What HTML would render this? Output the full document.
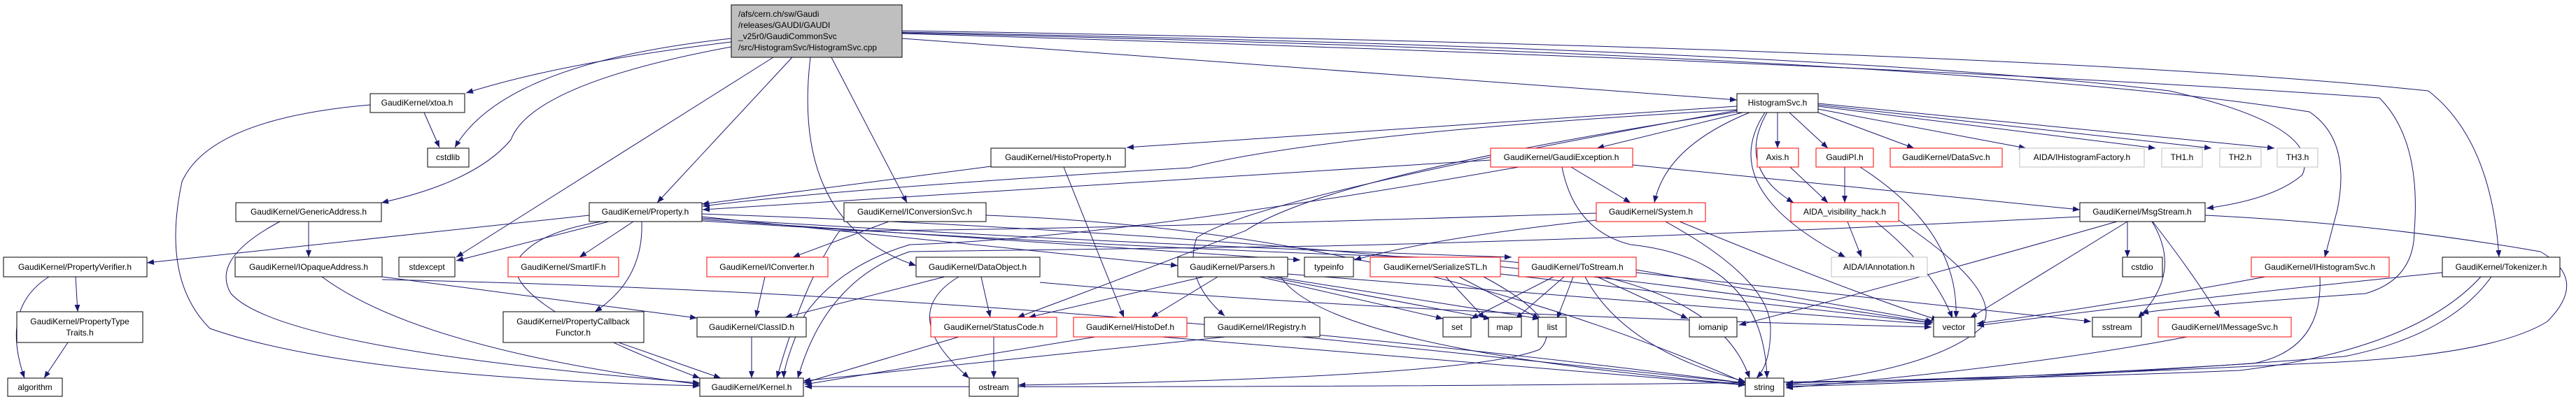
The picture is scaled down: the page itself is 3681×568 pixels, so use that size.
<!DOCTYPE html>
<html><head><meta charset="utf-8"><style>
html,body{margin:0;padding:0;background:#fff;}
svg{display:block;}
text{font-family:"Liberation Sans",sans-serif;font-size:12px;fill:#000;}
.n{fill:#fff;stroke:#000;stroke-width:1;}
.r{fill:#fff;stroke:#f00;stroke-width:1;}
.g{fill:#fff;stroke:#bfbfbf;stroke-width:1;}
.e{fill:none;stroke:#191970;stroke-width:1;marker-end:url(#a);}
</style></head><body>
<svg width="3681" height="568" viewBox="0 0 3681 568" xmlns="http://www.w3.org/2000/svg">
<defs><marker id="a" markerWidth="10" markerHeight="8" refX="10" refY="4" orient="auto" markerUnits="userSpaceOnUse"><path d="M0,0 L10,4 L0,8 z" fill="#191970"/></marker></defs>
<g>
<!-- root edges -->
<path class="e" d="M1045,60 Q800,90 666,133"/>
<path class="e" d="M1045,55 Q720,90 650,211"/>
<path class="e" d="M1045,67 Q760,120 730,200 Q680,260 545,290"/>
<path class="e" d="M1105,82 L652,368"/>
<path class="e" d="M1132,82 L939,290"/>
<path class="e" d="M1158,82 Q1130,320 1309,380"/>
<path class="e" d="M1188,82 L1296,290"/>
<path class="e" d="M1289,55 L2482,143"/>
<path class="e" d="M1289,46 Q2600,70 3100,130 Q3320,180 3290,250 Q3250,285 3153,298"/>
<path class="e" d="M1289,47 Q2800,80 3300,160 Q3360,200 3340,300 L3322,368"/>
<path class="e" d="M1289,44 Q2900,70 3470,130 Q3560,200 3571,368"/>
<path class="e" d="M1289,48 Q2700,90 3400,140 Q3460,200 3450,330 Q3450,400 3380,420 Q3100,440 3060,448"/>
<!-- HistogramSvc edges -->
<path class="e" d="M2482,152 L1610,211"/>
<path class="e" d="M2482,157 Q1900,190 1700,240 Q1200,270 1004,295"/>
<path class="e" d="M2490,161 L2282,212"/>
<path class="e" d="M2500,161 Q2380,210 2364,290"/>
<path class="e" d="M2540,161 L2540,212"/>
<path class="e" d="M2557,161 L2612,212"/>
<path class="e" d="M2598,161 L2735,212"/>
<path class="e" d="M2598,156 L2895,212"/>
<path class="e" d="M2598,152 L3080,212"/>
<path class="e" d="M2598,150 L3160,212"/>
<path class="e" d="M2598,148 L3250,212"/>
<path class="e" d="M2525,161 Q2480,240 2563,290"/>
<path class="e" d="M2522,161 Q2450,270 2637,368"/>
<path class="e" d="M2482,160 Q1900,250 1780,330 Q1600,400 1454,454"/>
<path class="e" d="M2482,158 Q1800,280 1710,340 Q1690,400 1750,452"/>
<!-- GaudiException -->
<path class="e" d="M2245,239 L2330,290"/>
<path class="e" d="M2170,239 Q1600,340 1300,350 Q1200,380 1150,450 Q1120,520 1120,541"/>
<path class="e" d="M2232,239 Q2250,330 2330,350 Q2520,370 2525,541"/>
<path class="e" d="M2333,236 L2972,300"/>
<path class="e" d="M2130,229 L1004,300"/>
<!-- System -->
<path class="e" d="M2281,315 Q2050,340 1935,372"/>
<path class="e" d="M2380,317 Q2530,400 2530,470 Q2530,520 2510,541"/>
<path class="e" d="M2400,317 Q2650,420 2770,458"/>
<path class="e" d="M2281,305 Q1500,330 1200,330 Q1150,400 1110,541"/>
<!-- AIDA vis -->
<path class="e" d="M2640,317 L2660,368"/>
<path class="e" d="M2680,317 Q2760,380 2790,455"/>
<path class="e" d="M2713,315 Q2870,420 2830,470 Q2760,530 2552,550"/>
<path class="e" d="M2636,239 L2636,290"/>
<path class="e" d="M2658,239 Q2800,330 2795,455"/>
<path class="e" d="M2558,239 L2612,290"/>
<!-- MsgStream -->
<path class="e" d="M3040,317 L3040,368"/>
<path class="e" d="M3075,317 Q3120,390 3055,455"/>
<path class="e" d="M3076,317 Q3140,400 3172,454"/>
<path class="e" d="M3040,317 L2815,455"/>
<path class="e" d="M3025,317 Q2700,410 2485,465"/>
<path class="e" d="M3151,308 Q3400,320 3630,360 Q3700,400 3640,460 Q3560,510 3300,520 Q2900,540 2552,548"/>
<path class="e" d="M2972,310 Q2400,340 1890,352 Q1500,356 1300,360 Q1180,400 1140,541"/>
<!-- IHistogramSvc, Tokenizer, IMessageSvc -->
<path class="e" d="M3237,396 Q3000,440 2825,463"/>
<path class="e" d="M3315,396 Q3320,500 3220,520 Q2900,540 2552,551"/>
<path class="e" d="M3490,390 Q3100,430 2825,466"/>
<path class="e" d="M3545,396 Q3450,500 3200,530 Q2600,556 1150,553"/>
<path class="e" d="M3560,396 Q3500,480 3350,510 Q2900,545 2552,553"/>
<path class="e" d="M3125,482 Q2900,525 2552,555"/>
<!-- Property -->
<path class="e" d="M842,308 L210,376"/>
<path class="e" d="M870,317 L652,373"/>
<path class="e" d="M905,317 L828,368"/>
<path class="e" d="M917,317 Q920,400 850,446"/>
<path class="e" d="M860,317 Q780,330 750,360 Q680,420 1000,541"/>
<path class="e" d="M1003,310 L1683,380"/>
<path class="e" d="M1003,312 Q1600,350 2160,368"/>
<path class="e" d="M1003,314 L1858,372"/>
<path class="e" d="M1003,316 Q1700,360 2100,370 Q2450,390 2500,541"/>
<path class="e" d="M1003,306 Q2000,340 2760,462"/>
<!-- left cluster -->
<path class="e" d="M108,396 L111,446"/>
<path class="e" d="M70,396 Q0,440 35,541"/>
<path class="e" d="M97,490 L63,541"/>
<path class="e" d="M441,317 L441,368"/>
<path class="e" d="M400,317 Q300,370 330,420 Q400,500 1000,548"/>
<path class="e" d="M546,396 L996,455"/>
<path class="e" d="M460,396 Q600,500 1000,550"/>
<path class="e" d="M546,400 Q1500,420 2494,548"/>
<path class="e" d="M529,150 Q300,170 260,260 Q230,400 300,470 Q500,540 1000,552"/>
<path class="e" d="M606,161 L628,211"/>
<path class="e" d="M884,490 L1030,541"/>
<!-- middle -->
<path class="e" d="M1270,317 L1133,368"/>
<path class="e" d="M1409,308 Q2000,330 2494,548"/>
<path class="e" d="M1093,396 L1080,454"/>
<path class="e" d="M1350,396 L1122,454"/>
<path class="e" d="M1402,396 L1415,454"/>
<path class="e" d="M1370,396 Q1280,450 1385,541"/>
<path class="e" d="M1486,404 Q2000,450 2760,468"/>
<path class="e" d="M1074,482 L1074,541"/>
<path class="e" d="M1370,482 L1148,548"/>
<path class="e" d="M1420,482 L1420,541"/>
<path class="e" d="M1565,482 L1150,550"/>
<path class="e" d="M1660,482 L2494,551"/>
<path class="e" d="M1416,238 L1003,292"/>
<path class="e" d="M1520,239 L1606,454"/>
<path class="e" d="M1751,482 L1148,545"/>
<path class="e" d="M1860,482 L2494,548"/>
<!-- Parsers -->
<path class="e" d="M1720,396 L1470,454"/>
<path class="e" d="M1740,396 L1645,454"/>
<path class="e" d="M1800,396 L2062,456"/>
<path class="e" d="M1810,396 L2130,456"/>
<path class="e" d="M1820,396 L2200,456"/>
<path class="e" d="M1830,396 Q1900,500 2494,550"/>
<path class="e" d="M1840,392 L2760,464"/>
<!-- SerializeSTL -->
<path class="e" d="M2066,396 L2122,456"/>
<path class="e" d="M2085,396 L2200,456"/>
<path class="e" d="M2120,396 Q2240,460 2200,500 Q2100,540 1455,551"/>
<path class="e" d="M2144,392 L2762,462"/>
<!-- ToStream -->
<path class="e" d="M2220,396 L2102,456"/>
<path class="e" d="M2235,396 L2166,456"/>
<path class="e" d="M2248,396 L2225,456"/>
<path class="e" d="M2282,396 L2412,456"/>
<path class="e" d="M2265,396 Q2320,500 2494,546"/>
<path class="e" d="M2338,390 L2988,460"/>
<path class="e" d="M2338,386 L2762,460"/>
</g>
<!-- nodes -->
<rect x="1045" y="7" width="244" height="75" fill="#bfbfbf" stroke="#000"/>
<text x="1055" y="24">/afs/cern.ch/sw/Gaudi</text>
<text x="1055" y="40">/releases/GAUDI/GAUDI</text>
<text x="1055" y="56">_v25r0/GaudiCommonSvc</text>
<text x="1055" y="72">/src/HistogramSvc/HistogramSvc.cpp</text>
<g text-anchor="middle">
<rect class="n" x="529" y="134" width="135" height="27"/><text x="596" y="151">GaudiKernel/xtoa.h</text>
<rect class="n" x="2482" y="134" width="116" height="27"/><text x="2540" y="151">HistogramSvc.h</text>
<rect class="n" x="611" y="212" width="59" height="27"/><text x="640" y="229">cstdlib</text>
<rect class="n" x="1416" y="212" width="192" height="27"/><text x="1512" y="229">GaudiKernel/HistoProperty.h</text>
<rect class="r" x="2130" y="212" width="203" height="27"/><text x="2231" y="229">GaudiKernel/GaudiException.h</text>
<rect class="r" x="2511" y="212" width="59" height="27"/><text x="2540" y="229">Axis.h</text>
<rect class="r" x="2595" y="212" width="82" height="27"/><text x="2636" y="229">GaudiPI.h</text>
<rect class="r" x="2701" y="212" width="160" height="27"/><text x="2781" y="229">GaudiKernel/DataSvc.h</text>
<rect class="g" x="2886" y="212" width="178" height="27"/><text x="2975" y="229">AIDA/IHistogramFactory.h</text>
<rect class="g" x="3089" y="212" width="58" height="27"/><text x="3118" y="229">TH1.h</text>
<rect class="g" x="3172" y="212" width="59" height="27"/><text x="3201" y="229">TH2.h</text>
<rect class="g" x="3254" y="212" width="58" height="27"/><text x="3283" y="229">TH3.h</text>
<rect class="n" x="337" y="290" width="208" height="27"/><text x="441" y="307">GaudiKernel/GenericAddress.h</text>
<rect class="n" x="842" y="290" width="161" height="27"/><text x="922" y="307">GaudiKernel/Property.h</text>
<rect class="n" x="1206" y="290" width="203" height="27"/><text x="1307" y="307">GaudiKernel/IConversionSvc.h</text>
<rect class="r" x="2281" y="290" width="156" height="27"/><text x="2359" y="307">GaudiKernel/System.h</text>
<rect class="r" x="2559" y="290" width="154" height="27"/><text x="2636" y="307">AIDA_visibility_hack.h</text>
<rect class="n" x="2972" y="290" width="179" height="27"/><text x="3061" y="307">GaudiKernel/MsgStream.h</text>
<rect class="n" x="5" y="368" width="205" height="28"/><text x="107" y="386">GaudiKernel/PropertyVerifier.h</text>
<rect class="n" x="336" y="368" width="210" height="28"/><text x="441" y="386">GaudiKernel/IOpaqueAddress.h</text>
<rect class="n" x="570" y="368" width="80" height="28"/><text x="610" y="386">stdexcept</text>
<rect class="r" x="726" y="368" width="158" height="28"/><text x="805" y="386">GaudiKernel/SmartIF.h</text>
<rect class="r" x="1010" y="368" width="173" height="28"/><text x="1096" y="386">GaudiKernel/IConverter.h</text>
<rect class="n" x="1309" y="368" width="177" height="28"/><text x="1397" y="386">GaudiKernel/DataObject.h</text>
<rect class="n" x="1683" y="368" width="157" height="28"/><text x="1761" y="386">GaudiKernel/Parsers.h</text>
<rect class="n" x="1864" y="368" width="70" height="28"/><text x="1899" y="386">typeinfo</text>
<rect class="r" x="1958" y="368" width="186" height="28"/><text x="2051" y="386">GaudiKernel/SerializeSTL.h</text>
<rect class="r" x="2170" y="368" width="168" height="28"/><text x="2254" y="386">GaudiKernel/ToStream.h</text>
<rect class="g" x="2617" y="368" width="137" height="28"/><text x="2685" y="386">AIDA/IAnnotation.h</text>
<rect class="n" x="3033" y="368" width="57" height="28"/><text x="3061" y="386">cstdio</text>
<rect class="r" x="3217" y="368" width="197" height="28"/><text x="3315" y="386">GaudiKernel/IHistogramSvc.h</text>
<rect class="n" x="3490" y="368" width="168" height="28"/><text x="3574" y="386">GaudiKernel/Tokenizer.h</text>
<rect class="n" x="24" y="446" width="180" height="44"/><text x="114" y="464">GaudiKernel/PropertyType</text><text x="114" y="480">Traits.h</text>
<rect class="n" x="719" y="446" width="201" height="44"/><text x="819" y="464">GaudiKernel/PropertyCallback</text><text x="819" y="480">Functor.h</text>
<rect class="n" x="996" y="454" width="156" height="28"/><text x="1074" y="472">GaudiKernel/ClassID.h</text>
<rect class="r" x="1330" y="454" width="180" height="28"/><text x="1420" y="472">GaudiKernel/StatusCode.h</text>
<rect class="r" x="1534" y="454" width="162" height="28"/><text x="1615" y="472">GaudiKernel/HistoDef.h</text>
<rect class="n" x="1721" y="454" width="165" height="28"/><text x="1803" y="472">GaudiKernel/IRegistry.h</text>
<rect class="n" x="2062" y="454" width="40" height="28"/><text x="2082" y="472">set</text>
<rect class="n" x="2127" y="454" width="47" height="28"/><text x="2150" y="472">map</text>
<rect class="n" x="2198" y="454" width="40" height="28"/><text x="2218" y="472">list</text>
<rect class="n" x="2414" y="454" width="68" height="28"/><text x="2448" y="472">iomanip</text>
<rect class="n" x="2763" y="454" width="59" height="28"/><text x="2792" y="472">vector</text>
<rect class="n" x="2990" y="454" width="70" height="28"/><text x="3025" y="472">sstream</text>
<rect class="r" x="3084" y="454" width="190" height="28"/><text x="3179" y="472">GaudiKernel/IMessageSvc.h</text>
<rect class="n" x="11" y="541" width="78" height="26"/><text x="50" y="558">algorithm</text>
<rect class="n" x="1000" y="541" width="148" height="26"/><text x="1074" y="558">GaudiKernel/Kernel.h</text>
<rect class="n" x="1385" y="541" width="70" height="26"/><text x="1420" y="558">ostream</text>
<rect class="n" x="2494" y="541" width="55" height="26"/><text x="2521" y="558">string</text>
</g>
</svg>
</body></html>
